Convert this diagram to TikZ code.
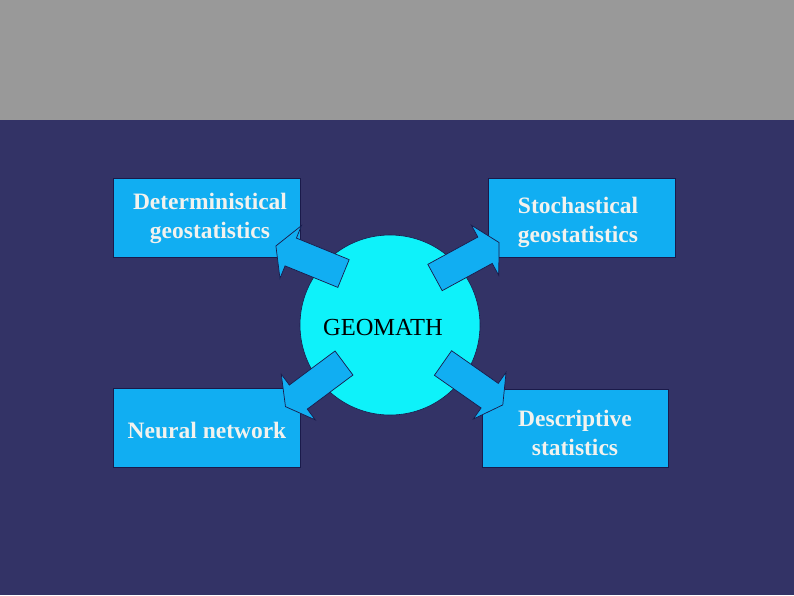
\documentclass[tikz,border=0pt]{standalone}
\usepackage{fontspec}
\setmainfont{Liberation Serif}
\definecolor{topgray}{HTML}{999999}
\definecolor{bgblue}{HTML}{333366}
\definecolor{boxblue}{HTML}{11AEF2}
\definecolor{ballcyan}{HTML}{0EF2FA}
\definecolor{txtlight}{HTML}{F2F2EE}
\definecolor{edgenavy}{HTML}{1A1A4A}
\tikzset{
  x=1pt, y=1pt,
  infobox/.style={draw=edgenavy, line width=0.8pt, fill=boxblue, text=txtlight,
    font=\fontsize{23.5}{29}\selectfont\bfseries, align=center, inner sep=0pt},
  blockarrow/.style={draw=edgenavy, line width=0.7pt, fill=boxblue, line join=miter}
}
\newcommand{\blockarrowpath}{(0,15) -- (57,15) -- (57,28.5) -- (73,0) -- (57,-28.5) -- (57,-15) -- (0,-15) -- cycle}
\begin{document}
\begin{tikzpicture}
\useasboundingbox (0,0) rectangle (794,-595);
\fill[bgblue] (0,0) rectangle (794,-595);
\fill[topgray] (0,0) rectangle (794,-119.5);
% circle
\node[circle, draw=edgenavy, line width=0.6pt, fill=ballcyan, minimum size=180, inner sep=0pt] (geo) at (390,-325) {};
\node[font=\fontsize{24.5}{28}\selectfont, text=black] (geot) at (383,-328) {GEOMATH};
% boxes
\node[infobox, minimum width=187, minimum height=79] (det) at (206.5,-217.5) {};
\node[infobox, minimum width=187, minimum height=79] (sto) at (581.5,-217.5) {};
\node[infobox, minimum width=187, minimum height=79] (neu) at (206.5,-427.5) {};
\node[infobox, minimum width=186, minimum height=78] (des) at (575,-428) {};
\node[infobox, draw=none, fill=none] (dett) at (210,-218) {Deterministical\\geostatistics};
\node[infobox, draw=none, fill=none] (stot) at (578,-222) {Stochastical\\geostatistics};
\node[infobox, draw=none, fill=none] (neut) at (207,-430) {Neural network};
\node[infobox, draw=none, fill=none] (dest) at (575,-433) {Descriptive\\statistics};
% block arrows from the ball to the boxes
\draw[blockarrow, shift={(343.5,-273.5)}, rotate=157.8] \blockarrowpath;
\draw[blockarrow, shift={(435,-277.5)}, rotate=28.6] \blockarrowpath;
\draw[blockarrow, shift={(344,-363)}, rotate=216.7] \blockarrowpath;
\draw[blockarrow, shift={(443,-363)}, rotate=-35] \blockarrowpath;
\end{tikzpicture}
\end{document}
